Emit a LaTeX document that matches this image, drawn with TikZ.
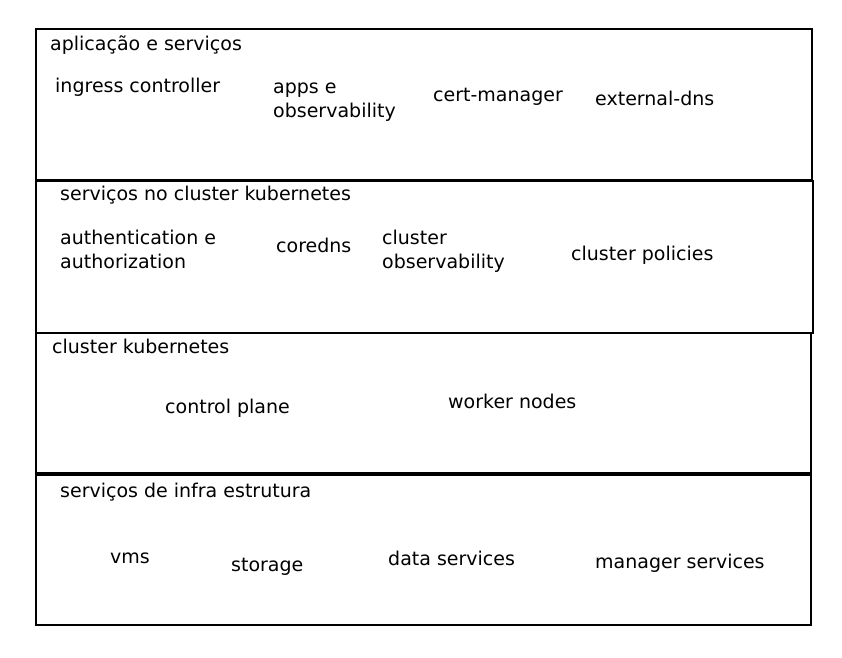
\documentclass[tikz,border=0pt]{standalone}
\usepackage{fontspec}
\setmainfont{DejaVu Sans}
\usetikzlibrary{positioning}

\begin{document}
\begin{tikzpicture}[
    x=1pt, y=-1pt,
    layer/.style={rectangle, draw, line width=1.8pt, anchor=north west, inner sep=0pt},
    lbl/.style={anchor=base west, inner sep=0pt, align=left, font=\fontsize{19}{24}\selectfont}
]
\useasboundingbox (0,0) rectangle (842,657);

% layers
\node[layer, minimum width=776pt, minimum height=151pt] (apps) at (35,28) {};
\node[layer, minimum width=777pt, minimum height=152pt] (k8ssvc) at (35,180) {};
\node[layer, minimum width=775pt, minimum height=140pt] (cluster) at (35,332) {};
\node[layer, minimum width=775pt, minimum height=150pt] (infra) at (35,474) {};

% aplicacao e servicos
\node[lbl] (appsTitle) at (50,50) {aplicação e serviços};
\node[lbl] (ingress) at (55,92) {ingress controller};
\node[lbl] (appsObs) at (273,117) {apps e\\observability};
\node[lbl] (certMgr) at (433,101) {cert-manager};
\node[lbl] (extDns) at (595,105) {external-dns};

% servicos no cluster
\node[lbl] (k8ssvcTitle) at (60,200) {serviços no cluster kubernetes};
\node[lbl] (authz) at (60,268) {authentication e\\authorization};
\node[lbl] (coredns) at (276,252) {coredns};
\node[lbl] (clusterObs) at (382,268) {cluster\\observability};
\node[lbl] (policies) at (571,260) {cluster policies};

% cluster
\node[lbl] (clusterTitle) at (52,353) {cluster kubernetes};
\node[lbl] (ctrlPlane) at (165,413) {control plane};
\node[lbl] (workers) at (448,408) {worker nodes};

% infra
\node[lbl] (infraTitle) at (60,497) {serviços de infra estrutura};
\node[lbl] (vms) at (110,563) {vms};
\node[lbl] (storage) at (231,571) {storage};
\node[lbl] (dataSvc) at (388,565) {data services};
\node[lbl] (mgrSvc) at (595,568) {manager services};

\end{tikzpicture}
\end{document}
